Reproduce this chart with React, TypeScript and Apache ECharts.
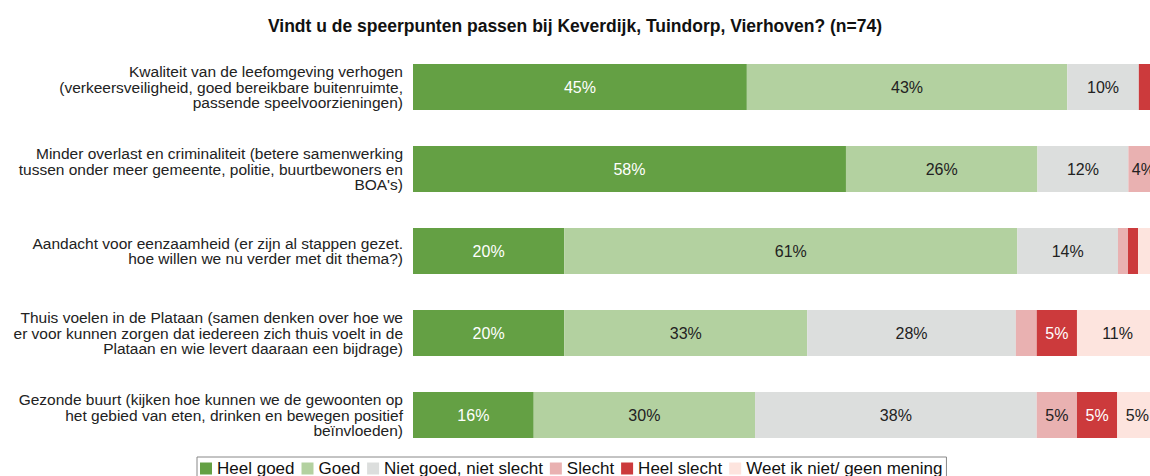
import React, { useEffect, useRef } from "react";
import * as echarts from "echarts";

const categories = [
  "Kwaliteit van de leefomgeving verhogen\n(verkeersveiligheid, goed bereikbare buitenruimte,\npassende speelvoorzieningen)",
  "Minder overlast en criminaliteit (betere samenwerking\ntussen onder meer gemeente, politie, buurtbewoners en\nBOA's)",
  "Aandacht voor eenzaamheid (er zijn al stappen gezet.\nhoe willen we nu verder met dit thema?)",
  "Thuis voelen in de Plataan (samen denken over hoe we\ner voor kunnen zorgen dat iedereen zich thuis voelt in de\nPlataan en wie levert daaraan een bijdrage)",
  "Gezonde buurt (kijken hoe kunnen we de gewoonten op\nhet gebied van eten, drinken en bewegen positief\nbeïnvloeden)",
];

const seriesNames = [
  "Heel goed",
  "Goed",
  "Niet goed, niet slecht",
  "Slecht",
  "Heel slecht",
  "Weet ik niet/ geen mening",
];

// percentages per category
const heelGoed = [44.8, 58.1, 20.3, 20.3, 16.2];
const goed = [43.0, 25.7, 60.8, 32.6, 29.7];
const nietGoedNietSlecht = [9.6, 12.2, 13.5, 28.0, 37.8];
const slecht = [0, 4.0, 1.35, 2.8, 5.4];
const heelSlecht = [2.6, 0, 1.35, 5.4, 5.4];
const weetNiet = [0, 0, 2.7, 10.9, 5.4];

const colors = ["#64a044", "#b3d1a0", "#dcdedd", "#e9b1b1", "#cc3a3c", "#fde4de"];
const labelColors = ["#ffffff", "#222222", "#222222", "#222222", "#ffffff", "#222222"];

export default function App() {
  const ref = useRef<HTMLDivElement>(null);
  useEffect(() => {
    document.body.style.margin = "0";
    const chart = echarts.init(ref.current!, null, { renderer: "svg" });
    const all = [heelGoed, goed, nietGoedNietSlecht, slecht, heelSlecht, weetNiet];
    chart.setOption({
      animation: false,
      textStyle: { fontFamily: "Liberation Sans, Arial, sans-serif" },
      title: {
        text: "Vindt u de speerpunten passen bij Keverdijk, Tuindorp, Vierhoven? (n=74)",
        left: "center",
        top: 12,
        textStyle: { fontSize: 17.5, fontWeight: "bold", color: "#111" },
      },
      legend: {
        data: seriesNames,
        left: 197,
        top: 457,
        icon: "rect",
        itemWidth: 12,
        itemHeight: 12,
        itemGap: 7,
        padding: [3, 4, 3, 3],
        borderColor: "#888",
        borderWidth: 1,
        textStyle: { fontSize: 17, color: "#111" },
      },
      grid: { left: 413, right: 0, top: 46, bottom: 20, containLabel: false },
      xAxis: { type: "value", min: 0, max: 98.9, show: false },
      yAxis: {
        type: "category",
        data: categories,
        inverse: true,
        axisLine: { show: false },
        axisTick: { show: false },
        axisLabel: { fontSize: 15.5, lineHeight: 15.5, color: "#222", margin: 10, align: "right" },
      },
      series: all.map((arr, i) => ({
        name: seriesNames[i],
        type: "bar",
        stack: "total",
        barWidth: 46,
        clip: false,
        itemStyle: { color: colors[i] },
        label: {
          show: true,
          position: "inside",
          fontSize: 16,
          color: labelColors[i],
          formatter: (p: any) => (p.value >= 3.5 ? Math.round(p.value) + "%" : ""),
        },
        data: arr,
      })),
    });
    return () => chart.dispose();
  }, []);
  return <div ref={ref} style={{ width: 1150, height: 476 }} />;
}
